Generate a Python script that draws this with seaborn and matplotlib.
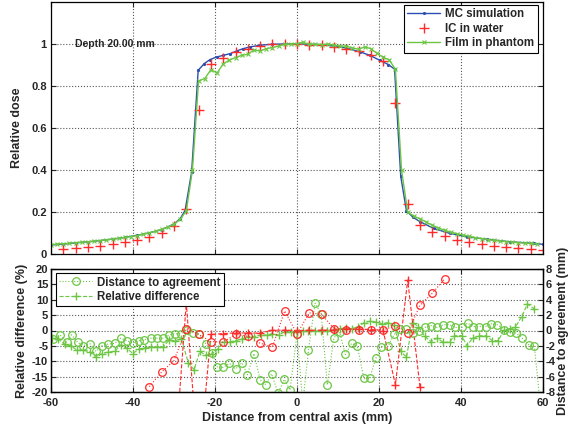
import matplotlib
matplotlib.use("Agg")
import matplotlib.pyplot as plt
import seaborn as sns

# ---------------- data ----------------
# Top panel: MC simulation profile
mc_x = [-60, -57, -54, -51, -48, -45, -42, -39, -36, -33, -30, -28.5, -27.3, -25.7, -24.1,
        -22.6, -21.2, -19.6, -18, -16.3, -14.7, -13.1, -11.5, -9, -6, -3, 0, 3, 6, 9, 12,
        15.4, 17.8, 20.2, 22.3, 23.8, 25.3, 26.7, 28.3, 30, 33.3, 37.3, 41.4, 46.3, 52, 57.7, 60]
mc_y = [0.043, 0.047, 0.053, 0.058, 0.064, 0.071, 0.079, 0.089, 0.101, 0.116, 0.143, 0.168,
        0.207, 0.39, 0.875, 0.907, 0.926, 0.938, 0.946, 0.954, 0.967, 0.978, 0.986, 0.994,
        0.999, 1.0, 1.0, 0.999, 0.997, 0.99, 0.981, 0.962, 0.946, 0.922, 0.902, 0.88, 0.37,
        0.205, 0.175, 0.154, 0.122, 0.098, 0.082, 0.07, 0.058, 0.051, 0.046]

# IC in water
ic_x = [-57, -54, -51, -48, -45, -42, -39, -36, -33, -30, -27, -24, -21, -18, -15, -12, -9,
        -6, -3, 0, 3, 6, 9, 12, 15, 18, 21, 24, 27, 30, 33, 36, 39, 42, 45, 48, 51, 54, 57, 60]
ic_y = [0.025, 0.028, 0.032, 0.039, 0.046, 0.056, 0.065, 0.082, 0.101, 0.132, 0.212, 0.685,
        0.904, 0.934, 0.96, 0.978, 0.989, 0.999, 1.0, 1.0, 0.997, 0.995, 0.986, 0.975, 0.965,
        0.948, 0.918, 0.72, 0.238, 0.137, 0.107, 0.084, 0.068, 0.055, 0.046, 0.038, 0.032,
        0.027, 0.022, 0.019]

# Film in phantom
film_x = [-60, -58.5, -57, -55.5, -54, -52.5, -51, -49.5, -48, -46.5, -45, -43.5, -42, -40.5,
          -39, -37.5, -36, -34.5, -33, -31.5, -30, -28.5, -27, -25.5, -24, -22.5, -21, -19.5,
          -18, -16.5, -15, -13.5, -12, -10.5, -9, -7.5, -6, -4.5, -3, -1.5, 0, 1.5, 3, 4.5, 6,
          7.5, 9, 10.5, 12, 13.5, 15, 16.5, 18, 19.5, 21, 22.5, 24, 25.5, 27, 28.5, 30, 31.5,
          33, 34.5, 36, 37.5, 39, 40.5, 42, 43.5, 45, 46.5, 48, 49.5, 51, 52.5, 54, 55.5, 57,
          58.5]
film_y = [0.045, 0.047, 0.049, 0.051, 0.054, 0.056, 0.058, 0.061, 0.064, 0.067, 0.071, 0.074,
          0.079, 0.083, 0.088, 0.094, 0.101, 0.108, 0.117, 0.128, 0.142, 0.165, 0.205, 0.40,
          0.825, 0.835, 0.878, 0.862, 0.905, 0.924, 0.935, 0.946, 0.951, 0.972, 0.966, 0.978,
          0.983, 0.99, 0.998, 0.999, 1.002, 1.008, 0.998, 0.999, 0.997, 1.0, 0.994, 0.99,
          0.99, 0.981, 0.975, 0.986, 0.978, 0.955, 0.937, 0.924, 0.88, 0.40, 0.20, 0.18,
          0.168, 0.152, 0.137, 0.124, 0.113, 0.104, 0.097, 0.09, 0.084, 0.078, 0.073, 0.069,
          0.065, 0.062, 0.059, 0.056, 0.054, 0.052, 0.05, 0.048]

# Bottom panel: film distance to agreement (mm)
dta_film_x = [-59.6, -57.8, -56.2, -55.0, -53.5, -52.1, -50.5, -49.0, -47.5, -46.0, -44.5,
              -43.0, -41.5, -40.0, -38.6, -37.2, -35.7, -34.2, -32.6, -31.1, -29.8, -28.3,
              -26.9, -25.4, -23.8, -22.2, -20.7, -19.4, -18.0, -16.5, -15.0, -13.4, -12.1,
              -10.5, -9.0, -7.6, -6.2, -4.6, -3.1, -1.7, 0.0, 1.4, 2.8, 4.4, 5.9, 7.4, 9.0,
              10.4, 11.8, 13.3, 14.7, 16.3, 17.7, 19.2, 20.6, 22.2, 23.7, 25.2, 26.7, 28.2,
              29.8, 31.2, 32.7, 34.2, 35.7, 37.2, 38.5, 40.2, 41.6, 43.0, 44.5, 46.0, 47.4,
              48.9, 50.5, 52.0, 53.4, 54.9, 56.5, 57.9, 59.4]
dta_film_mm = [-1.08, -0.56, -1.52, -0.56, -1.56, -1.96, -1.72, -2.72, -1.96, -1.76, -1.68,
               -1.0, -1.32, -1.64, -1.32, -1.2, -1.0, -1.0, -1.0, -0.56, -0.44, -0.4, 0.04,
               -0.28, -0.48, -1.76, -2.96, -4.8, -4.8, -4.28, -5.0, -4.2, -5.76, -3.0, -6.4,
               -7.04, -5.64, -8.16, -6.36, -7.76, -0.44, -9.5, -2.56, 3.56, 2.2, -7.08, -0.96,
               -0.24, -3.12, -1.68, -2.0, -6.24, -6.24, -3.64, -2.2, -2.04, -0.52, 0.24, 0.2,
               -0.32, -0.04, 0.4, 0.64, 0.4, 0.76, 0.76, 0.4, 0.4, 0.96, 0.52, 0.52, 0.52,
               0.88, 0.76, 0.08, -0.2, -0.32, -1.0, -1.84, -2.08, -10.0]

# Film relative difference (%)
rd_film_x = [-59.8, -58.2, -56.7, -55.2, -53.6, -52.2, -50.6, -49.0, -47.5, -46.1, -44.5,
             -43.0, -41.5, -40.0, -38.6, -37.1, -35.7, -34.2, -32.7, -31.2, -29.7, -28.2,
             -26.5, -25.1, -23.7, -22.3, -20.7, -19.3, -17.9, -16.4, -14.9, -13.5, -11.9,
             -10.5, -8.9, -7.4, -6.0, -4.5, -3.0, -1.5, 0.0, 1.4, 2.8, 4.3, 5.9, 7.4, 9.0,
             10.4, 11.9, 13.3, 14.9, 16.3, 17.7, 19.2, 20.7, 22.2, 23.7, 25.3, 26.7, 28.2,
             29.6, 31.1, 32.7, 34.1, 35.7, 37.2, 38.4, 40.2, 41.4, 42.9, 44.5, 46.1, 47.6,
             49.1, 50.5, 52.0, 53.2, 54.8, 56.2, 57.9]
rd_film_pct = [-2.5, -2.8, -4.5, -5.0, -6.4, -6.4, -6.9, -8.7, -7.5, -7.0, -6.8, -4.7, -5.8,
               -7.5, -6.0, -5.6, -5.3, -5.3, -5.3, -3.2, -3.3, -2.8, -10.5, -12.8, -6.8, -8.0,
               -7.6, -6.0, -3.8, -3.7, -3.3, -2.8, -2.0, -2.0, -1.5, -1.5, -1.0, -1.5, -0.4,
               -0.5, -0.6, -0.3, -0.1, -0.2, -0.1, 0.0, 0.2, 0.6, 0.8, 0.6, 1.2, 2.5, 3.0,
               2.8, 2.2, 2.6, 1.7, -6.8, -8.7, 2.5, 1.3, -1.9, -3.6, -2.5, -3.8, -3.8, -1.7,
               -1.7, -4.9, -2.5, -1.7, -1.7, -3.3, -3.3, 0.2, 0.6, 1.0, 4.5, 8.6, 7.0]

# IC distance to agreement (mm)
dta_ic_x = [-36, -33, -30, -27, -24, -21, -18, -15, -12, -9, -6, -3, 0, 3, 6, 9, 12, 15, 18,
            21, 24, 27, 30, 33, 36]
dta_ic_mm = [-7.3, -5.4, -3.9, 0.24, -0.5, -1.45, -1.5, -0.5, -0.75, -1.65, -2.15, 2.55,
             -0.45, 2.3, 2.1, 0.25, 0.12, 0.12, 0.12, 0.12, 0.55, -0.3, 3.3, 4.85, 6.7]

# IC relative difference (%)
rd_ic_x = [-30, -27, -24, -21, -18, -15, -12, -9, -6, -3, 0, 3, 6, 9, 12, 15, 18, 21, 24, 27, 30]
rd_ic_pct = [-45, 9, -45, -1.3, -1.0, -0.8, -0.8, -0.8, 0.1, 0.1, 0.0, 0.1, 0.1, 0.2, 0.5,
             0.5, 0.3, 0.0, -17.6, 16.4, -18.5]

x_ticks = [-60, -40, -20, 0, 20, 40, 60]
x_ticklabels = ["-60", "-40", "-20", "0", "20", "40", "60"]
top_yticks = [0, 0.2, 0.4, 0.6, 0.8, 1.0]
top_yticklabels = ["0", "0.2", "0.4", "0.6", "0.8", "1"]
bot_yticks = [-20, -15, -10, -5, 0, 5, 10, 15, 20]
bot_yticklabels = ["-20", "-15", "-10", "-5", "0", "5", "10", "15", "20"]
right_yticks = [-8, -6, -4, -2, 0, 2, 4, 6, 8]
right_yticklabels = ["-8", "-6", "-4", "-2", "0", "2", "4", "6", "8"]

# ---------------- style ----------------
sns.set_style("ticks")
plt.rcParams["font.family"] = ["Liberation Sans", "DejaVu Sans"]
plt.rcParams["font.weight"] = "bold"
plt.rcParams["axes.labelweight"] = "bold"
plt.rcParams["axes.unicode_minus"] = False
plt.rcParams["axes.edgecolor"] = "black"
plt.rcParams["axes.linewidth"] = 0.9

BLUE = "#2b4fb0"
RED = "#ff2a2a"
GREEN = "#6cc644"

fig = plt.figure(figsize=(5.72, 4.32), dpi=100)
W, H = 572, 432
ax = fig.add_axes([51 / W, 1 - 254 / H, 492 / W, 252 / H])
axb = fig.add_axes([51 / W, 1 - 392 / H, 492 / W, 123 / H])
ax2 = axb.twinx()

# ---------------- top panel ----------------
sns.lineplot(x=mc_x, y=mc_y, ax=ax, color=BLUE, linewidth=1.0, marker=".", markersize=3,
             markeredgecolor=BLUE, estimator=None, sort=False, legend=False)
h_mc = ax.lines[-1]
sns.lineplot(x=ic_x, y=ic_y, ax=ax, color=RED, linestyle="none", marker="+", markersize=7,
             markeredgecolor=RED, markeredgewidth=1.0, estimator=None, sort=False, legend=False)
h_ic = ax.lines[-1]
sns.lineplot(x=film_x, y=film_y, ax=ax, color=GREEN, linewidth=1.0, marker="x", markersize=3,
             markeredgecolor=GREEN, markeredgewidth=0.8, estimator=None, sort=False, legend=False)
h_film = ax.lines[-1]

ax.set_xlim(-60, 60)
ax.set_ylim(0, 1.2)
ax.set_xticks(x_ticks)
ax.set_yticks(top_yticks)
ax.set_yticklabels(top_yticklabels)
ax.tick_params(direction="in", length=3.5, width=0.8, top=True, right=True,
               labelbottom=False, labelsize=8, pad=3)
ax.grid(True, linestyle=":", color="0.35", linewidth=0.8)
ax.set_xlabel("")
ax.set_ylabel("Relative dose", fontsize=9, fontweight="bold", labelpad=6)
ax.text(-54.2, 1.0, "Depth 20.00 mm", fontsize=7.5, fontweight="bold", va="center", ha="left")
leg = ax.legend([h_mc, h_ic, h_film], ["MC simulation", "IC in water", "Film in phantom"],
                loc="upper right", bbox_to_anchor=(0.99, 0.988), fancybox=False,
                edgecolor="black", framealpha=1, prop={"weight": "bold", "size": 8.3},
                handlelength=2.8, handletextpad=0.5, labelspacing=0.2, borderpad=0.3,
                borderaxespad=0.0)
leg.get_frame().set_linewidth(0.8)

# ---------------- bottom panel ----------------
sns.lineplot(x=rd_film_x, y=rd_film_pct, ax=axb, color=GREEN, linestyle="--", linewidth=0.8,
             marker="+", markersize=6, markeredgecolor=GREEN, markeredgewidth=1.0,
             estimator=None, sort=False, legend=False)
h_rd = axb.lines[-1]
sns.lineplot(x=rd_ic_x, y=rd_ic_pct, ax=axb, color=RED, linestyle="--", linewidth=0.8,
             marker="+", markersize=6, markeredgecolor=RED, markeredgewidth=1.0,
             estimator=None, sort=False, legend=False)

sns.lineplot(x=dta_film_x, y=dta_film_mm, ax=ax2, color=GREEN, linestyle=":", linewidth=0.8,
             marker="o", markersize=5.5, markerfacecolor="none", markeredgecolor=GREEN,
             markeredgewidth=0.9, estimator=None, sort=False, legend=False)
h_dta = ax2.lines[-1]
sns.lineplot(x=dta_ic_x, y=dta_ic_mm, ax=ax2, color=RED, linestyle=":", linewidth=0.8,
             marker="o", markersize=5.5, markerfacecolor="none", markeredgecolor=RED,
             markeredgewidth=0.9, estimator=None, sort=False, legend=False)

axb.set_xlim(-60, 60)
axb.set_ylim(-20, 20)
ax2.set_ylim(-8, 8)
axb.set_xticks(x_ticks)
axb.set_xticklabels(x_ticklabels)
axb.set_yticks(bot_yticks)
axb.set_yticklabels(bot_yticklabels)
ax2.set_yticks(right_yticks)
ax2.set_yticklabels(right_yticklabels)
axb.tick_params(direction="in", length=3.5, width=0.8, top=True, right=False,
                labelsize=8, pad=2)
axb.tick_params(axis="x", pad=4)
ax2.tick_params(direction="in", length=3.5, width=0.8, right=True, labelsize=8, pad=2)
axb.grid(True, linestyle=":", color="0.35", linewidth=0.8)
axb.set_xlabel("Distance from central axis (mm)", fontsize=9, fontweight="bold", labelpad=3)
axb.set_ylabel("Relative difference (%)", fontsize=9, fontweight="bold", labelpad=3)
ax2.set_ylabel("Distance to agreement (mm)", fontsize=9, fontweight="bold", labelpad=1)
ax2.set_xlabel("")

leg2 = ax2.legend([h_dta, h_rd], ["Distance to agreement", "Relative difference"],
                  loc="upper left", bbox_to_anchor=(0.01, 0.967), fancybox=False,
                  edgecolor="black", framealpha=1, prop={"weight": "bold", "size": 8.3},
                  handlelength=2.8, handletextpad=0.5, labelspacing=0.2, borderpad=0.3,
                  borderaxespad=0.0)
leg2.get_frame().set_linewidth(0.8)

fig.savefig("out.png", dpi=100)
